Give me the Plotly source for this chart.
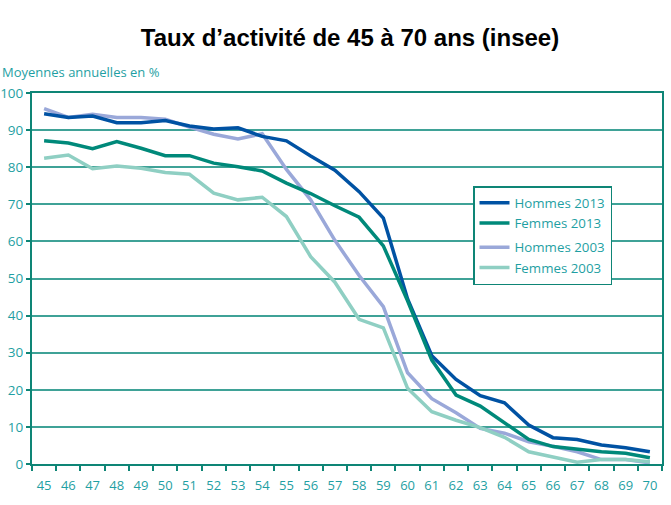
import plotly.graph_objects as go

ages = [str(a) for a in range(45, 71)]

hommes_2013 = [94.4, 93.4, 93.8, 92.0, 92.0, 92.6, 91.1, 90.3, 90.6, 88.3, 87.1, 83.0, 79.2, 73.4, 66.3,
               44.5, 29.2, 22.8, 18.4, 16.5, 10.5, 7.1, 6.6, 5.1, 4.4, 3.3]
femmes_2013 = [87.1, 86.5, 85.0, 86.9, 85.1, 83.1, 83.1, 81.1, 80.1, 79.0, 75.7, 72.9, 69.6, 66.5, 58.8,
               44.0, 28.0, 18.6, 15.6, 11.0, 6.6, 4.7, 4.0, 3.3, 2.9, 1.7]
hommes_2003 = [95.8, 93.4, 94.3, 93.4, 93.4, 92.9, 90.8, 88.9, 87.6, 89.0, 79.4, 71.2, 60.3, 50.8, 42.4,
               24.6, 17.6, 13.8, 9.6, 8.3, 6.0, 4.8, 3.3, 1.2, 1.2, 0.3]
femmes_2003 = [82.4, 83.3, 79.6, 80.3, 79.7, 78.6, 78.1, 73.0, 71.2, 71.9, 66.7, 55.9, 49.0, 39.0, 36.7,
               20.4, 14.1, 11.8, 9.8, 7.2, 3.3, 2.0, 0.5, 1.2, 1.2, 0.6]

series = [
    ("Hommes 2003", hommes_2003, "#9aa8d9", 3),
    ("Femmes 2003", femmes_2003, "#8fcfc3", 4),
    ("Hommes 2013", hommes_2013, "#0052a3", 1),
    ("Femmes 2013", femmes_2013, "#00897a", 2),
]

teal_text = "#1f9fa3"
teal_line = "#0e8576"

fig = go.Figure()
for name, vals, color, rank in series:
    fig.add_trace(go.Scatter(
        x=ages, y=vals, mode="lines", name=name,
        line=dict(color=color, width=3.5),
        legendrank=rank,
        legendgroup="g2013" if "2013" in name else "g2003",
    ))

fig.update_layout(
    width=671, height=505,
    margin=dict(l=32, r=9, t=93, b=41, autoexpand=False),
    paper_bgcolor="white", plot_bgcolor="white",
    font=dict(family="Open Sans", size=13, color=teal_text),
    title=dict(text="<b>Taux d\u2019activité de 45 à 70 ans (insee)</b>",
               x=350/671, xanchor="center", xref="container",
               y=1-38/505, yanchor="middle", yref="container",
               font=dict(family="Liberation Sans", size=24, color="black")),
    showlegend=True,
    legend=dict(x=(473-32)/630, y=(464-186)/371, xanchor="left", yanchor="top",
                bgcolor="white", bordercolor=teal_line, borderwidth=1.5,
                font=dict(family="Open Sans", size=13.3, color=teal_text),
                traceorder="grouped", tracegroupgap=4,
                itemwidth=30),
    xaxis=dict(type="category", range=[-0.5, len(ages) - 0.5],
               tickson="boundaries", ticks="outside", ticklen=5,
               tickcolor=teal_line, tickwidth=1.5, tickangle=0, automargin=False,
               showline=True, linecolor=teal_line, linewidth=2, mirror=True,
               showgrid=False, ticklabelstandoff=8,
               tickfont=dict(color=teal_text, size=13)),
    yaxis=dict(range=[0, 100], dtick=10, ticks="outside", ticklen=4,
               tickcolor=teal_line, tickwidth=1.5, automargin=False,
               showline=True, linecolor=teal_line, linewidth=2, mirror=True,
               showgrid=True, gridcolor="#3fa297", gridwidth=1.5,
               zeroline=False, ticklabelstandoff=0,
               tickfont=dict(color=teal_text, size=13.5)),
    annotations=[dict(text="Moyennes annuelles en %", xref="paper", yref="paper",
                      x=-32/630, y=1+(93-72)/371, xanchor="left", yanchor="middle",
                      showarrow=False, font=dict(family="Open Sans", size=13, color=teal_text))],
)

fig.write_html("out.html")
